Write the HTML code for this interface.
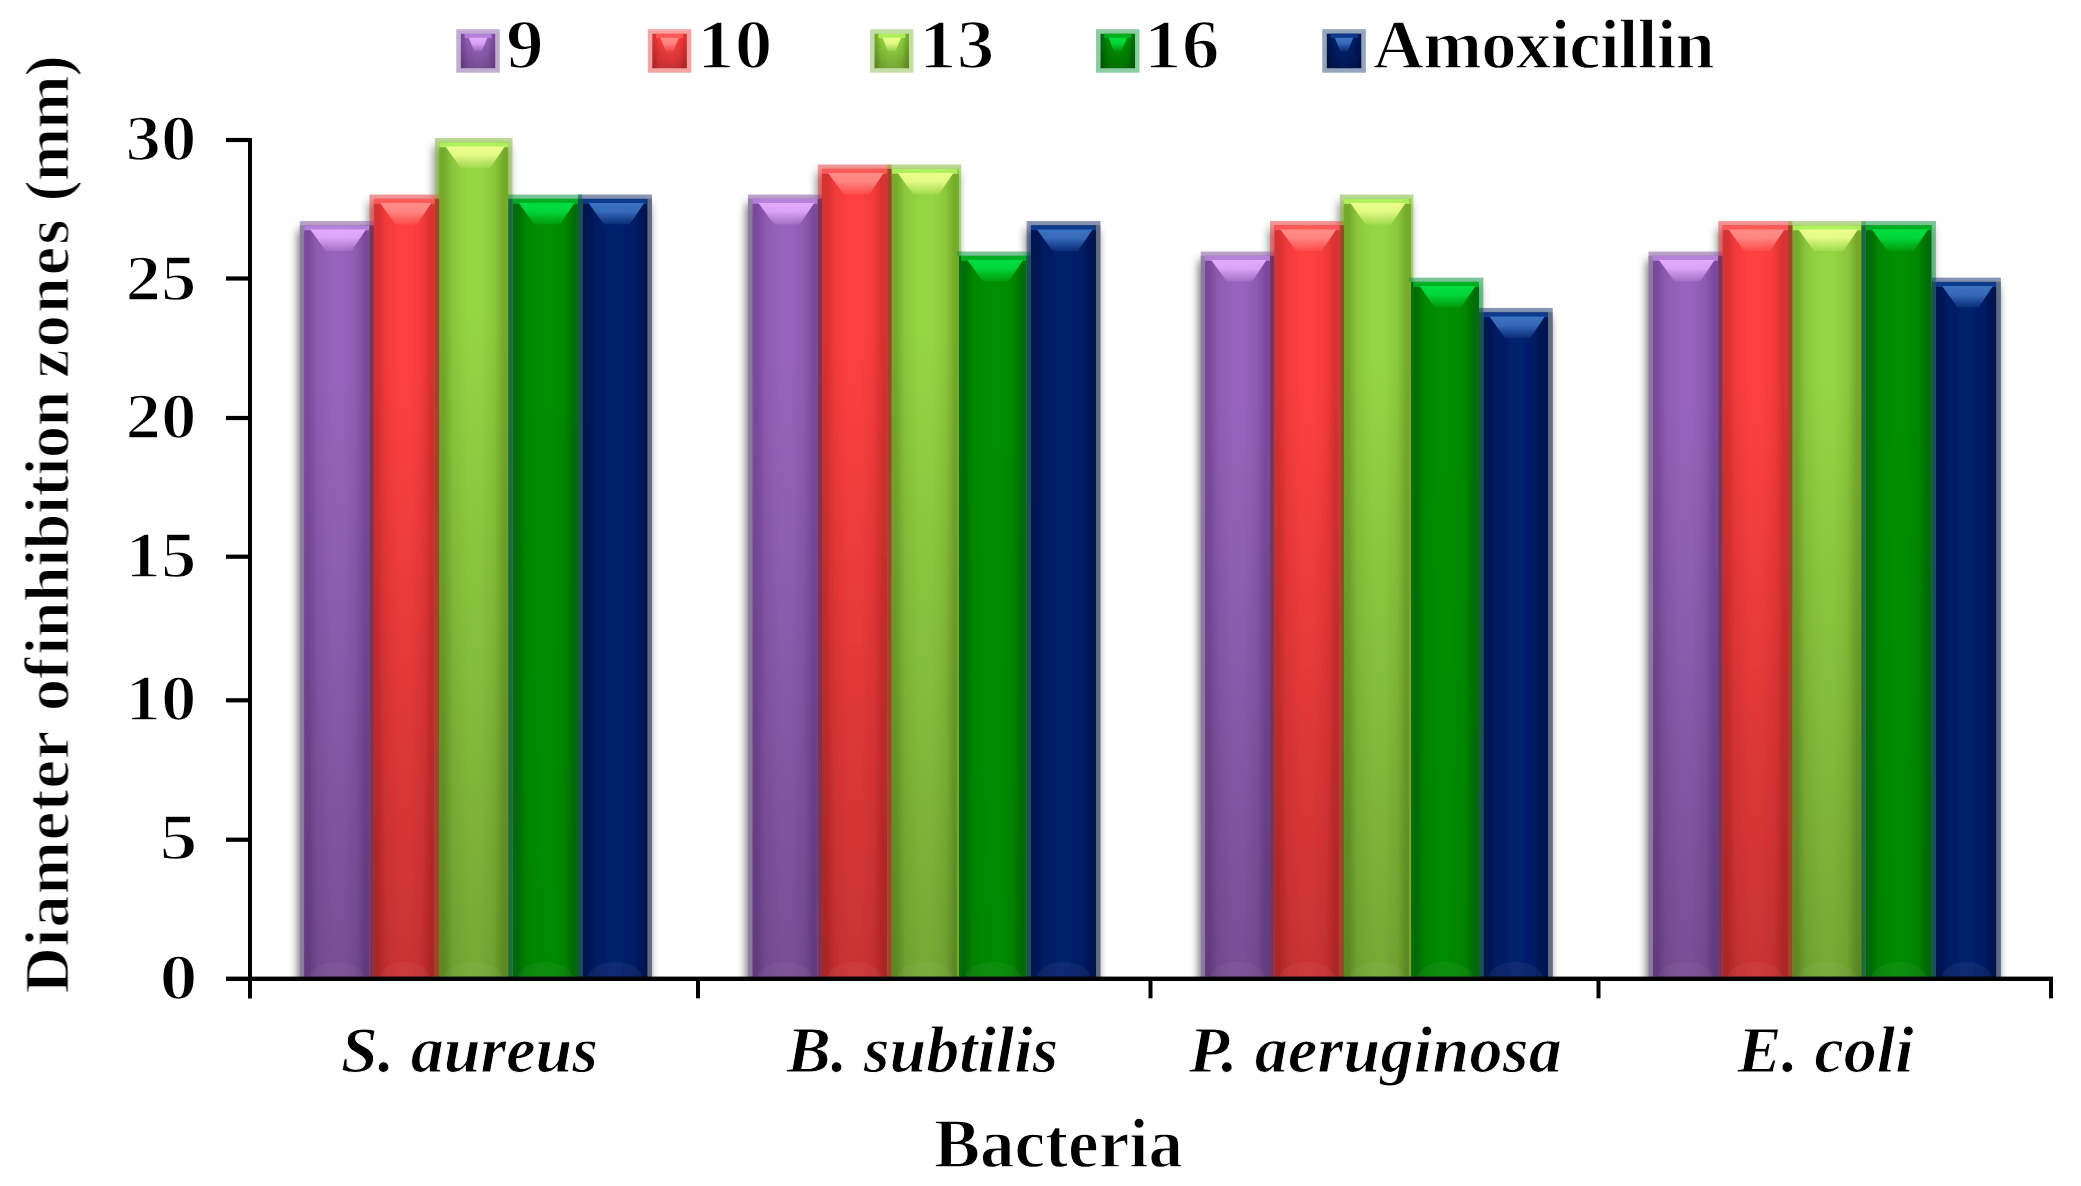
<!DOCTYPE html>
<html lang="en"><head><meta charset="utf-8"><title>Diameter of inhibition zones</title>
<style>html,body{margin:0;padding:0;background:#fff}body{width:2081px;height:1186px;overflow:hidden}svg{display:block}text{font-family:"Liberation Serif","Times New Roman",serif;font-weight:bold;fill:#000;stroke:#fff;stroke-width:1.3px}.d{stroke-width:1.7px}.i{stroke-width:0.9px}</style></head><body>
<svg width="2081" height="1186" viewBox="0 0 2081 1186">
<defs>
<linearGradient id="gp" x1="0" x2="1" y1="0" y2="0"><stop offset="0" stop-color="#7a4a9e"/><stop offset="0.07" stop-color="#7a4a9e"/><stop offset="0.2" stop-color="#8d5bb0"/><stop offset="0.42" stop-color="#9764bc"/><stop offset="0.6" stop-color="#9764bc"/><stop offset="0.8" stop-color="#8d5bb0"/><stop offset="0.93" stop-color="#7a4a9e"/><stop offset="1" stop-color="#7a4a9e"/></linearGradient>
<linearGradient id="dp" x1="0" x2="0" y1="0" y2="1"><stop offset="0" stop-color="#000" stop-opacity="0"/><stop offset="0.2" stop-color="#000" stop-opacity="0"/><stop offset="1" stop-color="#000" stop-opacity="0.21"/></linearGradient>
<linearGradient id="hp" x1="0" x2="0" y1="0" y2="1"><stop offset="0" stop-color="#e3aaff" stop-opacity="1"/><stop offset="0.4" stop-color="#e3aaff" stop-opacity="0.9"/><stop offset="1" stop-color="#e3aaff" stop-opacity="0.15"/></linearGradient>
<linearGradient id="gr" x1="0" x2="1" y1="0" y2="0"><stop offset="0" stop-color="#d83030"/><stop offset="0.07" stop-color="#d83030"/><stop offset="0.2" stop-color="#f23a3a"/><stop offset="0.42" stop-color="#fe4040"/><stop offset="0.6" stop-color="#fe4040"/><stop offset="0.8" stop-color="#f23a3a"/><stop offset="0.93" stop-color="#d83030"/><stop offset="1" stop-color="#d83030"/></linearGradient>
<linearGradient id="dr" x1="0" x2="0" y1="0" y2="1"><stop offset="0" stop-color="#000" stop-opacity="0"/><stop offset="0.2" stop-color="#000" stop-opacity="0"/><stop offset="1" stop-color="#000" stop-opacity="0.21"/></linearGradient>
<linearGradient id="hr" x1="0" x2="0" y1="0" y2="1"><stop offset="0" stop-color="#ff8c88" stop-opacity="1"/><stop offset="0.4" stop-color="#ff8c88" stop-opacity="0.9"/><stop offset="1" stop-color="#ff8c88" stop-opacity="0.15"/></linearGradient>
<linearGradient id="gl" x1="0" x2="1" y1="0" y2="0"><stop offset="0" stop-color="#74aa2c"/><stop offset="0.07" stop-color="#74aa2c"/><stop offset="0.2" stop-color="#8bc83c"/><stop offset="0.42" stop-color="#94d543"/><stop offset="0.6" stop-color="#94d543"/><stop offset="0.8" stop-color="#8bc83c"/><stop offset="0.93" stop-color="#74aa2c"/><stop offset="1" stop-color="#74aa2c"/></linearGradient>
<linearGradient id="dl" x1="0" x2="0" y1="0" y2="1"><stop offset="0" stop-color="#000" stop-opacity="0"/><stop offset="0.2" stop-color="#000" stop-opacity="0"/><stop offset="1" stop-color="#000" stop-opacity="0.21"/></linearGradient>
<linearGradient id="hl" x1="0" x2="0" y1="0" y2="1"><stop offset="0" stop-color="#ecff8c" stop-opacity="1"/><stop offset="0.4" stop-color="#ecff8c" stop-opacity="0.9"/><stop offset="1" stop-color="#ecff8c" stop-opacity="0.15"/></linearGradient>
<linearGradient id="gg" x1="0" x2="1" y1="0" y2="0"><stop offset="0" stop-color="#006c08"/><stop offset="0.07" stop-color="#006c08"/><stop offset="0.2" stop-color="#008600"/><stop offset="0.42" stop-color="#008f00"/><stop offset="0.6" stop-color="#008f00"/><stop offset="0.8" stop-color="#008600"/><stop offset="0.93" stop-color="#006c08"/><stop offset="1" stop-color="#006c08"/></linearGradient>
<linearGradient id="dg" x1="0" x2="0" y1="0" y2="1"><stop offset="0" stop-color="#000" stop-opacity="0"/><stop offset="0.2" stop-color="#000" stop-opacity="0"/><stop offset="1" stop-color="#000" stop-opacity="0.04"/></linearGradient>
<linearGradient id="hg" x1="0" x2="0" y1="0" y2="1"><stop offset="0" stop-color="#00de40" stop-opacity="1"/><stop offset="0.4" stop-color="#00de40" stop-opacity="0.9"/><stop offset="1" stop-color="#00de40" stop-opacity="0.15"/></linearGradient>
<linearGradient id="gb" x1="0" x2="1" y1="0" y2="0"><stop offset="0" stop-color="#001450"/><stop offset="0.07" stop-color="#001450"/><stop offset="0.2" stop-color="#001c62"/><stop offset="0.42" stop-color="#00206c"/><stop offset="0.6" stop-color="#00206c"/><stop offset="0.8" stop-color="#001c62"/><stop offset="0.93" stop-color="#001450"/><stop offset="1" stop-color="#001450"/></linearGradient>
<linearGradient id="db" x1="0" x2="0" y1="0" y2="1"><stop offset="0" stop-color="#000" stop-opacity="0"/><stop offset="0.2" stop-color="#000" stop-opacity="0"/><stop offset="1" stop-color="#000" stop-opacity="0.00"/></linearGradient>
<linearGradient id="hb" x1="0" x2="0" y1="0" y2="1"><stop offset="0" stop-color="#3c72c2" stop-opacity="1"/><stop offset="0.4" stop-color="#3c72c2" stop-opacity="0.9"/><stop offset="1" stop-color="#3c72c2" stop-opacity="0.15"/></linearGradient>
<linearGradient id="dl" x1="0" x2="0" y1="0" y2="1"><stop offset="0" stop-color="#000" stop-opacity="0"/><stop offset="0.4" stop-color="#000" stop-opacity="0.045"/><stop offset="1" stop-color="#000" stop-opacity="0.25"/></linearGradient>
<filter id="sh" x="-10%" y="-10%" width="120%" height="120%"><feGaussianBlur in="SourceAlpha" stdDeviation="4.5"/><feOffset dx="-2" dy="7"/><feComponentTransfer><feFuncA type="linear" slope="0.6"/></feComponentTransfer><feMerge><feMergeNode/><feMergeNode in="SourceGraphic"/></feMerge></filter>
<filter id="bl" x="-2%" y="-2%" width="104%" height="104%"><feGaussianBlur stdDeviation="0.7"/></filter>
<filter id="bt" x="-2%" y="-2%" width="104%" height="104%"><feGaussianBlur stdDeviation="0.45"/></filter>
</defs>
<rect width="2081" height="1186" fill="#fff"/>
<clipPath id="cp"><rect x="0" y="0" width="2081" height="979"/></clipPath>
<g clip-path="url(#cp)"><g filter="url(#bl)">
<g filter="url(#sh)">
<rect x="304.1" y="225.3" width="65.4" height="753.7" fill="url(#gp)"/>
<rect x="304.1" y="225.3" width="65.4" height="753.7" fill="url(#dp)"/>
<ellipse cx="336.8" cy="979.0" rx="27.7" ry="17" fill="#fff" opacity="0.045"/>
<rect x="304.1" y="225.3" width="65.4" height="5" fill="#b986e0" opacity="0.9"/>
<polygon points="310.3,229.5 366.0,229.5 351.5,251.0 325.8,251.0" fill="url(#hp)"/>
<rect x="373.8" y="198.8" width="61.1" height="780.2" fill="url(#gr)"/>
<rect x="373.8" y="198.8" width="61.1" height="780.2" fill="url(#dr)"/>
<ellipse cx="404.4" cy="979.0" rx="25.5" ry="17" fill="#fff" opacity="0.045"/>
<rect x="373.8" y="198.8" width="61.1" height="5" fill="#ff5e5c" opacity="0.9"/>
<polygon points="380.0,203.0 431.4,203.0 416.9,224.5 395.5,224.5" fill="url(#hr)"/>
<rect x="439.2" y="142.3" width="69.1" height="836.7" fill="url(#gl)"/>
<rect x="439.2" y="142.3" width="69.1" height="836.7" fill="url(#dl)"/>
<ellipse cx="473.8" cy="979.0" rx="29.6" ry="17" fill="#fff" opacity="0.045"/>
<rect x="439.2" y="142.3" width="69.1" height="5" fill="#b4f562" opacity="0.9"/>
<polygon points="445.4,146.5 504.8,146.5 490.3,168.0 460.9,168.0" fill="url(#hl)"/>
<rect x="512.6" y="198.8" width="65.4" height="780.2" fill="url(#gg)"/>
<rect x="512.6" y="198.8" width="65.4" height="780.2" fill="url(#dg)"/>
<ellipse cx="545.3" cy="979.0" rx="27.7" ry="17" fill="#fff" opacity="0.045"/>
<rect x="512.6" y="198.8" width="65.4" height="5" fill="#00b424" opacity="0.9"/>
<polygon points="518.8,203.0 574.5,203.0 560.0,224.5 534.3,224.5" fill="url(#hg)"/>
<rect x="582.3" y="198.8" width="65.4" height="780.2" fill="url(#gb)"/>
<ellipse cx="615.0" cy="979.0" rx="27.7" ry="17" fill="#fff" opacity="0.045"/>
<rect x="582.3" y="198.8" width="65.4" height="5" fill="#0c3e90" opacity="0.9"/>
<polygon points="588.5,203.0 644.2,203.0 629.7,224.5 604.0,224.5" fill="url(#hb)"/>
<rect x="301.9" y="223.2" width="69.7" height="755.6" fill="none" stroke="#7a4a9e" stroke-opacity="0.5" stroke-width="4.3"/>
<rect x="371.6" y="196.7" width="65.4" height="782.1" fill="none" stroke="#e83030" stroke-opacity="0.5" stroke-width="4.3"/>
<rect x="437.0" y="140.2" width="73.4" height="838.6" fill="none" stroke="#7cb434" stroke-opacity="0.5" stroke-width="4.3"/>
<rect x="510.4" y="196.7" width="69.7" height="782.1" fill="none" stroke="#009038" stroke-opacity="0.5" stroke-width="4.3"/>
<rect x="580.1" y="196.7" width="69.7" height="782.1" fill="none" stroke="#10306c" stroke-opacity="0.5" stroke-width="4.3"/>
<rect x="299.8" y="225.3" width="4.3" height="753.7" fill="#8c7c9c" opacity="0.75"/>
<rect x="647.7" y="198.8" width="4.3" height="780.2" fill="#626a80" opacity="0.95"/>
<rect x="369.5" y="225.3" width="4.3" height="753.7" fill="#803250"/>
<rect x="434.9" y="198.8" width="4.3" height="780.2" fill="#9a4a26"/>
<rect x="508.3" y="198.8" width="4.3" height="780.2" fill="#1f6a3c"/>
<rect x="578.0" y="198.8" width="4.3" height="780.2" fill="#1c5058"/>
</g>
<g filter="url(#sh)">
<rect x="752.3" y="198.8" width="65.4" height="780.2" fill="url(#gp)"/>
<rect x="752.3" y="198.8" width="65.4" height="780.2" fill="url(#dp)"/>
<ellipse cx="785.0" cy="979.0" rx="27.7" ry="17" fill="#fff" opacity="0.045"/>
<rect x="752.3" y="198.8" width="65.4" height="5" fill="#b986e0" opacity="0.9"/>
<polygon points="758.5,203.0 814.2,203.0 799.7,224.5 774.0,224.5" fill="url(#hp)"/>
<rect x="822.0" y="168.8" width="65.2" height="810.2" fill="url(#gr)"/>
<rect x="822.0" y="168.8" width="65.2" height="810.2" fill="url(#dr)"/>
<ellipse cx="854.6" cy="979.0" rx="27.6" ry="17" fill="#fff" opacity="0.045"/>
<rect x="822.0" y="168.8" width="65.2" height="5" fill="#ff5e5c" opacity="0.9"/>
<polygon points="828.2,173.0 883.7,173.0 869.2,194.5 843.7,194.5" fill="url(#hr)"/>
<rect x="891.5" y="168.8" width="67.5" height="810.2" fill="url(#gl)"/>
<rect x="891.5" y="168.8" width="67.5" height="810.2" fill="url(#dl)"/>
<ellipse cx="925.3" cy="979.0" rx="28.8" ry="17" fill="#fff" opacity="0.045"/>
<rect x="891.5" y="168.8" width="67.5" height="5" fill="#b4f562" opacity="0.9"/>
<polygon points="897.7,173.0 953.4,173.0 938.9,194.5 913.2,194.5" fill="url(#hl)"/>
<rect x="959.0" y="255.8" width="67.5" height="723.2" fill="url(#gg)"/>
<rect x="959.0" y="255.8" width="67.5" height="723.2" fill="url(#dg)"/>
<ellipse cx="992.8" cy="979.0" rx="28.8" ry="17" fill="#fff" opacity="0.045"/>
<rect x="959.0" y="255.8" width="67.5" height="5" fill="#00b424" opacity="0.9"/>
<polygon points="967.4,260.0 1023.1,260.0 1008.6,281.5 982.9,281.5" fill="url(#hg)"/>
<rect x="1030.9" y="225.3" width="65.1" height="753.7" fill="url(#gb)"/>
<ellipse cx="1063.4" cy="979.0" rx="27.6" ry="17" fill="#fff" opacity="0.045"/>
<rect x="1030.9" y="225.3" width="65.1" height="5" fill="#0c3e90" opacity="0.9"/>
<polygon points="1037.1,229.5 1092.5,229.5 1078.0,251.0 1052.6,251.0" fill="url(#hb)"/>
<rect x="750.1" y="196.7" width="69.7" height="782.1" fill="none" stroke="#7a4a9e" stroke-opacity="0.5" stroke-width="4.3"/>
<rect x="819.9" y="166.7" width="69.5" height="812.1" fill="none" stroke="#e83030" stroke-opacity="0.5" stroke-width="4.3"/>
<rect x="889.4" y="166.7" width="69.7" height="812.1" fill="none" stroke="#7cb434" stroke-opacity="0.5" stroke-width="4.3"/>
<rect x="959.0" y="253.7" width="69.7" height="725.1" fill="none" stroke="#009038" stroke-opacity="0.5" stroke-width="4.3"/>
<rect x="1028.8" y="223.2" width="69.4" height="755.6" fill="none" stroke="#10306c" stroke-opacity="0.5" stroke-width="4.3"/>
<rect x="748.0" y="198.8" width="4.3" height="780.2" fill="#8c7c9c" opacity="0.75"/>
<rect x="1096.0" y="225.3" width="4.3" height="753.7" fill="#626a80" opacity="0.95"/>
<rect x="817.7" y="198.8" width="4.3" height="780.2" fill="#803250"/>
<rect x="887.2" y="168.8" width="4.3" height="810.2" fill="#9a4a26"/>
<rect x="956.9" y="255.8" width="2.1" height="723.2" fill="#74aa2c"/>
<rect x="959.0" y="255.8" width="2.1" height="723.2" fill="#006c08"/>
<rect x="1026.6" y="255.8" width="4.3" height="723.2" fill="#1c5058"/>
</g>
<g filter="url(#sh)">
<rect x="1205.0" y="255.8" width="65.0" height="723.2" fill="url(#gp)"/>
<rect x="1205.0" y="255.8" width="65.0" height="723.2" fill="url(#dp)"/>
<ellipse cx="1237.5" cy="979.0" rx="27.5" ry="17" fill="#fff" opacity="0.045"/>
<rect x="1205.0" y="255.8" width="65.0" height="5" fill="#b986e0" opacity="0.9"/>
<polygon points="1211.2,260.0 1266.5,260.0 1252.0,281.5 1226.7,281.5" fill="url(#hp)"/>
<rect x="1274.3" y="225.3" width="65.4" height="753.7" fill="url(#gr)"/>
<rect x="1274.3" y="225.3" width="65.4" height="753.7" fill="url(#dr)"/>
<ellipse cx="1307.0" cy="979.0" rx="27.7" ry="17" fill="#fff" opacity="0.045"/>
<rect x="1274.3" y="225.3" width="65.4" height="5" fill="#ff5e5c" opacity="0.9"/>
<polygon points="1280.5,229.5 1336.2,229.5 1321.7,251.0 1296.0,251.0" fill="url(#hr)"/>
<rect x="1344.0" y="198.8" width="67.1" height="780.2" fill="url(#gl)"/>
<rect x="1344.0" y="198.8" width="67.1" height="780.2" fill="url(#dl)"/>
<ellipse cx="1377.6" cy="979.0" rx="28.6" ry="17" fill="#fff" opacity="0.045"/>
<rect x="1344.0" y="198.8" width="67.1" height="5" fill="#b4f562" opacity="0.9"/>
<polygon points="1350.2,203.0 1405.5,203.0 1391.0,224.5 1365.7,224.5" fill="url(#hl)"/>
<rect x="1411.1" y="281.9" width="67.9" height="697.1" fill="url(#gg)"/>
<rect x="1411.1" y="281.9" width="67.9" height="697.1" fill="url(#dg)"/>
<ellipse cx="1445.1" cy="979.0" rx="28.9" ry="17" fill="#fff" opacity="0.045"/>
<rect x="1411.1" y="281.9" width="67.9" height="5" fill="#00b424" opacity="0.9"/>
<polygon points="1419.5,286.1 1475.5,286.1 1461.0,307.6 1435.0,307.6" fill="url(#hg)"/>
<rect x="1483.3" y="312.3" width="65.0" height="666.7" fill="url(#gb)"/>
<ellipse cx="1515.8" cy="979.0" rx="27.5" ry="17" fill="#fff" opacity="0.045"/>
<rect x="1483.3" y="312.3" width="65.0" height="5" fill="#0c3e90" opacity="0.9"/>
<polygon points="1489.5,316.5 1544.8,316.5 1530.3,338.0 1505.0,338.0" fill="url(#hb)"/>
<rect x="1202.9" y="253.7" width="69.3" height="725.1" fill="none" stroke="#7a4a9e" stroke-opacity="0.5" stroke-width="4.3"/>
<rect x="1272.2" y="223.2" width="69.7" height="755.6" fill="none" stroke="#e83030" stroke-opacity="0.5" stroke-width="4.3"/>
<rect x="1341.9" y="196.7" width="69.3" height="782.1" fill="none" stroke="#7cb434" stroke-opacity="0.5" stroke-width="4.3"/>
<rect x="1411.2" y="279.8" width="70.0" height="699.0" fill="none" stroke="#009038" stroke-opacity="0.5" stroke-width="4.3"/>
<rect x="1481.2" y="310.1" width="69.3" height="668.6" fill="none" stroke="#10306c" stroke-opacity="0.5" stroke-width="4.3"/>
<rect x="1200.7" y="255.8" width="4.3" height="723.2" fill="#8c7c9c" opacity="0.75"/>
<rect x="1548.3" y="312.3" width="4.3" height="666.7" fill="#626a80" opacity="0.95"/>
<rect x="1270.0" y="255.8" width="4.3" height="723.2" fill="#803250"/>
<rect x="1339.7" y="225.3" width="4.3" height="753.7" fill="#9a4a26"/>
<rect x="1409.0" y="281.9" width="2.1" height="697.1" fill="#74aa2c"/>
<rect x="1411.2" y="281.9" width="2.1" height="697.1" fill="#006c08"/>
<rect x="1479.0" y="312.3" width="4.3" height="666.7" fill="#1c5058"/>
</g>
<g filter="url(#sh)">
<rect x="1652.8" y="255.8" width="65.4" height="723.2" fill="url(#gp)"/>
<rect x="1652.8" y="255.8" width="65.4" height="723.2" fill="url(#dp)"/>
<ellipse cx="1685.5" cy="979.0" rx="27.7" ry="17" fill="#fff" opacity="0.045"/>
<rect x="1652.8" y="255.8" width="65.4" height="5" fill="#b986e0" opacity="0.9"/>
<polygon points="1659.0,260.0 1714.7,260.0 1700.2,281.5 1674.5,281.5" fill="url(#hp)"/>
<rect x="1722.5" y="225.3" width="65.5" height="753.7" fill="url(#gr)"/>
<rect x="1722.5" y="225.3" width="65.5" height="753.7" fill="url(#dr)"/>
<ellipse cx="1755.2" cy="979.0" rx="27.7" ry="17" fill="#fff" opacity="0.045"/>
<rect x="1722.5" y="225.3" width="65.5" height="5" fill="#ff5e5c" opacity="0.9"/>
<polygon points="1728.7,229.5 1784.5,229.5 1770.0,251.0 1744.2,251.0" fill="url(#hr)"/>
<rect x="1792.3" y="225.3" width="69.1" height="753.7" fill="url(#gl)"/>
<rect x="1792.3" y="225.3" width="69.1" height="753.7" fill="url(#dl)"/>
<ellipse cx="1826.8" cy="979.0" rx="29.6" ry="17" fill="#fff" opacity="0.045"/>
<rect x="1792.3" y="225.3" width="69.1" height="5" fill="#b4f562" opacity="0.9"/>
<polygon points="1798.5,229.5 1857.9,229.5 1843.4,251.0 1814.0,251.0" fill="url(#hl)"/>
<rect x="1865.7" y="225.3" width="65.9" height="753.7" fill="url(#gg)"/>
<rect x="1865.7" y="225.3" width="65.9" height="753.7" fill="url(#dg)"/>
<ellipse cx="1898.6" cy="979.0" rx="27.9" ry="17" fill="#fff" opacity="0.045"/>
<rect x="1865.7" y="225.3" width="65.9" height="5" fill="#00b424" opacity="0.9"/>
<polygon points="1871.9,229.5 1928.1,229.5 1913.6,251.0 1887.4,251.0" fill="url(#hg)"/>
<rect x="1935.9" y="281.9" width="60.6" height="697.1" fill="url(#gb)"/>
<ellipse cx="1966.2" cy="979.0" rx="25.3" ry="17" fill="#fff" opacity="0.045"/>
<rect x="1935.9" y="281.9" width="60.6" height="5" fill="#0c3e90" opacity="0.9"/>
<polygon points="1942.1,286.1 1993.0,286.1 1978.5,307.6 1957.6,307.6" fill="url(#hb)"/>
<rect x="1650.7" y="253.7" width="69.7" height="725.1" fill="none" stroke="#7a4a9e" stroke-opacity="0.5" stroke-width="4.3"/>
<rect x="1720.4" y="223.2" width="69.8" height="755.6" fill="none" stroke="#e83030" stroke-opacity="0.5" stroke-width="4.3"/>
<rect x="1790.2" y="223.2" width="73.4" height="755.6" fill="none" stroke="#7cb434" stroke-opacity="0.5" stroke-width="4.3"/>
<rect x="1863.6" y="223.2" width="70.2" height="755.6" fill="none" stroke="#009038" stroke-opacity="0.5" stroke-width="4.3"/>
<rect x="1933.8" y="279.8" width="64.9" height="699.0" fill="none" stroke="#10306c" stroke-opacity="0.5" stroke-width="4.3"/>
<rect x="1648.5" y="255.8" width="4.3" height="723.2" fill="#8c7c9c" opacity="0.75"/>
<rect x="1996.5" y="281.9" width="4.3" height="697.1" fill="#626a80" opacity="0.95"/>
<rect x="1718.2" y="255.8" width="4.3" height="723.2" fill="#803250"/>
<rect x="1788.0" y="225.3" width="4.3" height="753.7" fill="#9a4a26"/>
<rect x="1861.4" y="225.3" width="4.3" height="753.7" fill="#1f6a3c"/>
<rect x="1931.6" y="281.9" width="4.3" height="697.1" fill="#1c5058"/>
</g>
<rect x="458.5" y="31.4" width="39.1" height="39.1" fill="none" stroke="#7a4a9e" stroke-opacity="0.45" stroke-width="4.4"/>
<rect x="460.7" y="33.6" width="34.7" height="34.7" fill="url(#gp)"/>
<rect x="460.7" y="33.6" width="34.7" height="34.7" fill="url(#dl)"/>
<rect x="464.6" y="33.6" width="27" height="4.5" fill="#b986e0" opacity="0.85"/>
<polygon points="468.8,37.7 487.3,37.7 481.8,51.2 474.3,51.2" fill="url(#hp)"/>
<rect x="650.0" y="31.4" width="39.1" height="39.1" fill="none" stroke="#e83030" stroke-opacity="0.45" stroke-width="4.4"/>
<rect x="652.2" y="33.6" width="34.7" height="34.7" fill="url(#gr)"/>
<rect x="652.2" y="33.6" width="34.7" height="34.7" fill="url(#dl)"/>
<rect x="656.1" y="33.6" width="27" height="4.5" fill="#ff5e5c" opacity="0.85"/>
<polygon points="660.3,37.7 678.8,37.7 673.3,51.2 665.8,51.2" fill="url(#hr)"/>
<rect x="872.2" y="31.4" width="39.1" height="39.1" fill="none" stroke="#7cb434" stroke-opacity="0.45" stroke-width="4.4"/>
<rect x="874.4" y="33.6" width="34.7" height="34.7" fill="url(#gl)"/>
<rect x="874.4" y="33.6" width="34.7" height="34.7" fill="url(#dl)"/>
<rect x="878.3" y="33.6" width="27" height="4.5" fill="#b4f562" opacity="0.85"/>
<polygon points="882.5,37.7 901.0,37.7 895.5,51.2 888.0,51.2" fill="url(#hl)"/>
<rect x="1098.2" y="31.4" width="39.1" height="39.1" fill="none" stroke="#009038" stroke-opacity="0.45" stroke-width="4.4"/>
<rect x="1100.4" y="33.6" width="34.7" height="34.7" fill="url(#gg)"/>
<rect x="1100.4" y="33.6" width="34.7" height="34.7" fill="url(#dl)"/>
<rect x="1104.3" y="33.6" width="27" height="4.5" fill="#00b424" opacity="0.85"/>
<polygon points="1108.5,37.7 1127.0,37.7 1121.5,51.2 1114.0,51.2" fill="url(#hg)"/>
<rect x="1324.5" y="31.4" width="39.1" height="39.1" fill="none" stroke="#10306c" stroke-opacity="0.45" stroke-width="4.4"/>
<rect x="1326.7" y="33.6" width="34.7" height="34.7" fill="url(#gb)"/>
<rect x="1326.7" y="33.6" width="34.7" height="34.7" fill="url(#dl)"/>
<rect x="1330.6" y="33.6" width="27" height="4.5" fill="#0c3e90" opacity="0.85"/>
<polygon points="1334.8,37.7 1353.3,37.7 1347.8,51.2 1340.3,51.2" fill="url(#hb)"/>
</g></g>
<g class="t" filter="url(#bt)">
<text class="d" transform="translate(506.0 67.8) scale(1.07 1)" font-size="70.5">9</text>
<text class="d" transform="translate(697.0 67.8) scale(1.07 1)" font-size="70.5">10</text>
<text class="d" transform="translate(919.0 67.8) scale(1.07 1)" font-size="70.5">13</text>
<text class="d" transform="translate(1144.0 67.8) scale(1.07 1)" font-size="70.5">16</text>
<text x="1373.0" y="67.8" font-size="70.5" letter-spacing="-0.68">Amoxicillin</text>
</g>
<g filter="url(#bt)">
<rect x="248" y="138" width="4" height="860.5" fill="#000"/>
<rect x="226" y="976.6" width="1827" height="4.4" fill="#000"/>
<rect x="226" y="837.6" width="24" height="4.2" fill="#000"/>
<rect x="226" y="698.2" width="24" height="4.2" fill="#000"/>
<rect x="226" y="554.6" width="24" height="4.2" fill="#000"/>
<rect x="226" y="415.9" width="24" height="4.2" fill="#000"/>
<rect x="226" y="276.4" width="24" height="4.2" fill="#000"/>
<rect x="226" y="137.9" width="24" height="4.2" fill="#000"/>
<rect x="696.0" y="979" width="4" height="19.3" fill="#000"/>
<rect x="1148.5" y="979" width="4" height="19.3" fill="#000"/>
<rect x="1596.5" y="979" width="4" height="19.3" fill="#000"/>
<rect x="2049.0" y="979" width="4" height="19.3" fill="#000"/>
</g>
<g class="t" filter="url(#bt)">
<text class="d" transform="translate(197.5 998.5) scale(1.18 1)" font-size="64.5" text-anchor="end">0</text>
<text class="d" transform="translate(197.5 859.0) scale(1.18 1)" font-size="64.5" text-anchor="end">5</text>
<text class="d" transform="translate(196.5 720.3) scale(1.10 1)" font-size="64.5" text-anchor="end">10</text>
<text class="d" transform="translate(196.5 577.0) scale(1.10 1)" font-size="64.5" text-anchor="end">15</text>
<text class="d" transform="translate(196.5 438.0) scale(1.10 1)" font-size="64.5" text-anchor="end">20</text>
<text class="d" transform="translate(196.5 300.0) scale(1.10 1)" font-size="64.5" text-anchor="end">25</text>
<text class="d" transform="translate(196.5 159.7) scale(1.10 1)" font-size="64.5" text-anchor="end">30</text>
<text class="i" x="469.5" y="1071.6" font-size="66" font-style="italic" text-anchor="middle">S. aureus</text>
<text class="i" x="922.5" y="1071.6" font-size="66" font-style="italic" text-anchor="middle">B. subtilis</text>
<text class="i" x="1375.5" y="1071.6" font-size="66" font-style="italic" text-anchor="middle" letter-spacing="0.30">P. aeruginosa</text>
<text class="i" x="1825.5" y="1071.6" font-size="66" font-style="italic" text-anchor="middle">E. coli</text>
<text x="1058.5" y="1167.2" font-size="69" text-anchor="middle">Bacteria</text>
<text transform="translate(68.5 1000) rotate(-90)" font-size="64"><tspan x="6.4" letter-spacing="1.00">Diameter</tspan> <tspan x="289.0" letter-spacing="0.00">of</tspan> <tspan x="345.3" letter-spacing="-0.33">inhibition</tspan> <tspan x="622.0" letter-spacing="2.25">zones</tspan> <tspan x="798.5" letter-spacing="-1.00">(mm)</tspan></text>
</g>
</svg></body></html>
